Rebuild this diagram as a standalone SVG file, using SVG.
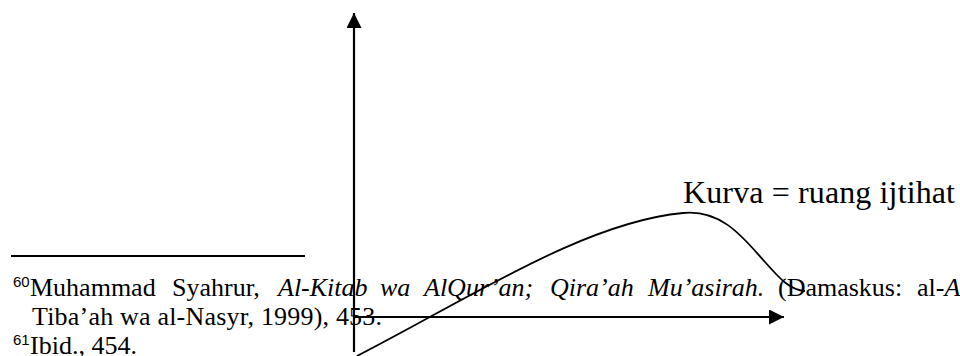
<svg xmlns="http://www.w3.org/2000/svg" width="960" height="356" viewBox="0 0 960 356">
<defs>
<style>
.ax{stroke:#000;stroke-width:2.2;fill:none}
.cv{stroke:#000;stroke-width:1.8;fill:none}
.t{font-family:'Liberation Serif','DejaVu Serif',serif;font-size:26px;fill:#000}
.i{font-style:italic}
.sup{font-family:'Liberation Sans','DejaVu Sans',sans-serif;font-size:15px;fill:#000}
</style>
<marker id="ah" viewBox="0 0 15 15" refX="15" refY="7.5" markerWidth="15" markerHeight="15" orient="auto" markerUnits="userSpaceOnUse">
<path d="M0,0 L15,7.5 L0,15 z" fill="#000"/>
</marker>
</defs>
<rect width="960" height="356" fill="#fff"/>
<g id="footnotes">
<line x1="11" y1="256" x2="305" y2="256" stroke="#000" stroke-width="2"/>
<text class="sup" x="13" y="287">60</text>
<text class="t" x="30" y="296">Muhammad</text>
<text class="t" x="172" y="296">Syahrur,</text>
<text class="t i" x="278" y="296">Al-Kitab</text>
<text class="t i" x="380" y="296">wa</text>
<text class="t i" x="424" y="296">AlQur’an;</text>
<text class="t i" x="550" y="296">Qira’ah</text>
<text class="t i" x="648" y="296">Mu’asirah.</text>
<text class="t" x="778" y="296">(Damaskus:</text>
<text class="t" x="917" y="296">al-<tspan class="i">A</tspan></text>
<text class="t" x="32" y="325" textLength="350" lengthAdjust="spacing">Tiba’ah wa al-Nasyr, 1999), 453.</text>
<text class="sup" x="13" y="345">61</text>
<text class="t" x="30" y="354">Ibid., 454.</text>
</g>
<g id="axes">
<line class="ax" x1="354" y1="352" x2="354" y2="13" marker-end="url(#ah)"/>
<line class="ax" x1="354" y1="317" x2="784" y2="317" marker-end="url(#ah)"/>
</g>
<g id="curve">
<path class="cv" d="M357,356 C470,298 585,222 683,213 C723,209 745,240 765,262 C780,279 790,290 805,291"/>
</g>
<g id="label">
<text class="t" x="683" y="203" style="font-size:32px" textLength="272" lengthAdjust="spacing">Kurva = ruang ijtihat</text>
</g>
</svg>
